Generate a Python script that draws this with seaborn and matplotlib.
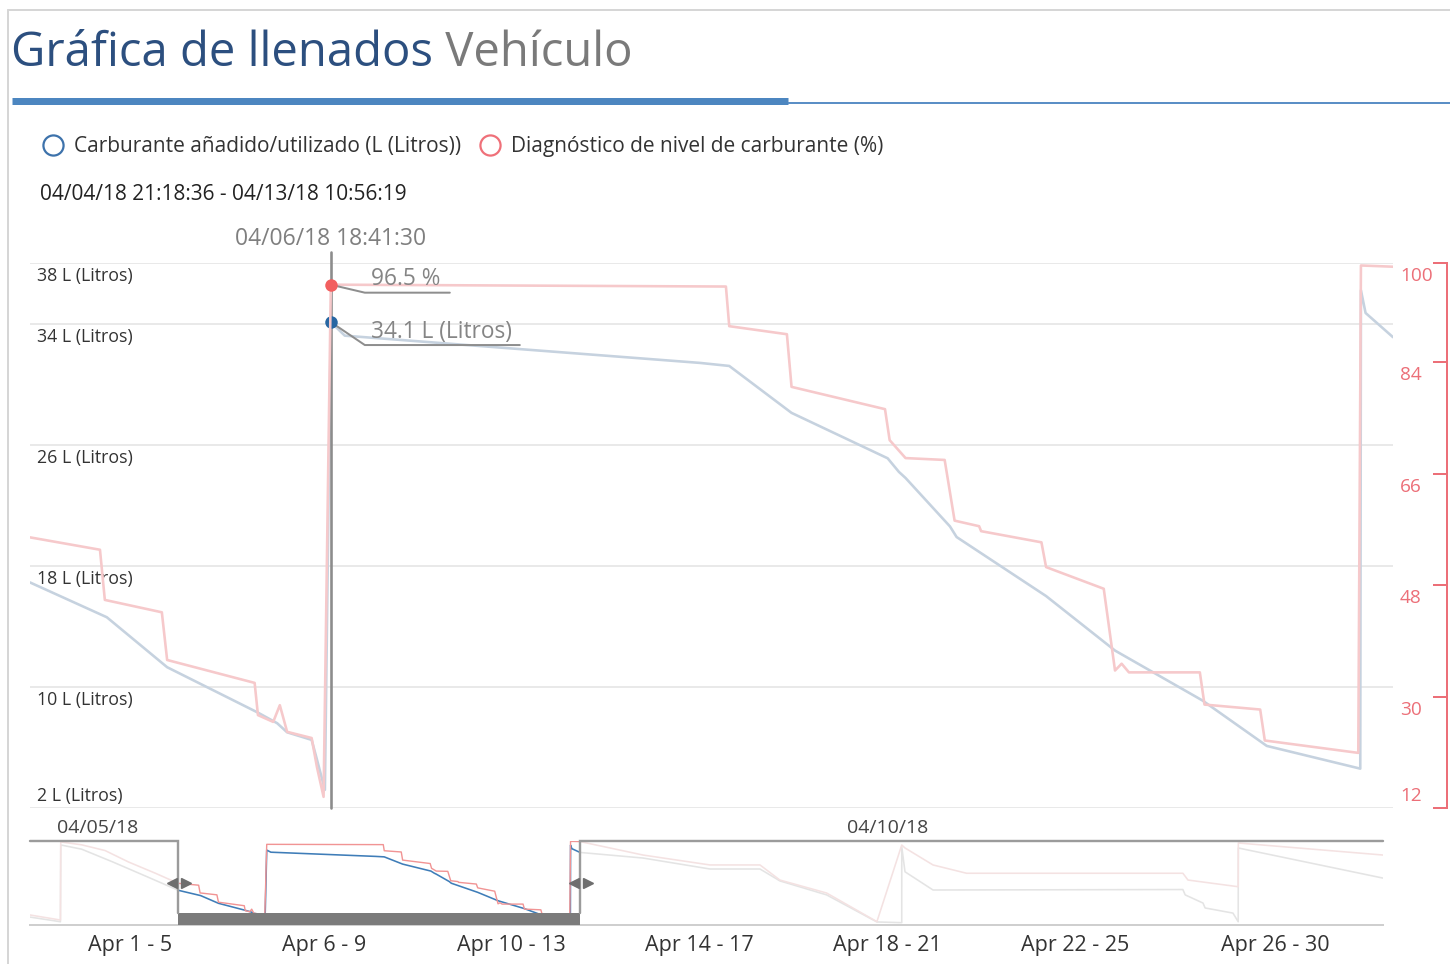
import pandas as pd
import matplotlib
matplotlib.use("Agg")
import matplotlib.pyplot as plt
import matplotlib.dates as mdates
import matplotlib.transforms as mtransforms
from matplotlib.lines import Line2D
from matplotlib.text import Annotation
import seaborn as sns

# ---------------- data ----------------
range_start = "2018-04-04 21:18:36"
range_end = "2018-04-13 10:56:19"
cursor_time = "2018-04-06 18:41:30"
cursor_litros = 34.1
cursor_pct = 96.5

# fuel added/used (litres) inside the selected range
litros_time = [
    "2018-04-04 21:18:36", "2018-04-05 08:54", "2018-04-05 18:00", "2018-04-06 07:42",
    "2018-04-06 10:36", "2018-04-06 12:06", "2018-04-06 15:48", "2018-04-06 16:36",
    "2018-04-06 17:48", "2018-04-06 18:41:30", "2018-04-06 20:48", "2018-04-09 02:24",
    "2018-04-09 06:48", "2018-04-09 16:12", "2018-04-10 06:42", "2018-04-10 08:24",
    "2018-04-10 09:24", "2018-04-10 16:06", "2018-04-10 17:06", "2018-04-11 06:36",
    "2018-04-11 17:00", "2018-04-12 06:12", "2018-04-12 15:54", "2018-04-13 06:00",
    "2018-04-13 06:06", "2018-04-13 06:48", "2018-04-13 10:56:19",
]
litros_value = [
    16.9, 14.6, 11.3, 8.3, 7.6, 7.0, 6.5, 5.2, 3.2, 34.1, 33.2, 31.4, 31.2, 28.1,
    25.1, 24.2, 23.8, 20.6, 19.9, 16.0, 12.4, 9.1, 6.1, 4.6, 36.2, 34.7, 33.1,
]

# fuel level diagnostic (%) inside the selected range
pct_time = [
    "2018-04-04 21:18:36", "2018-04-05 07:52", "2018-04-05 08:36", "2018-04-05 17:12",
    "2018-04-05 18:00", "2018-04-06 07:12", "2018-04-06 07:42", "2018-04-06 10:00",
    "2018-04-06 11:00", "2018-04-06 12:06", "2018-04-06 15:48", "2018-04-06 16:36",
    "2018-04-06 17:36", "2018-04-06 18:41:30", "2018-04-09 06:18", "2018-04-09 06:48",
    "2018-04-09 15:30", "2018-04-09 16:12", "2018-04-10 06:18", "2018-04-10 07:00",
    "2018-04-10 09:24", "2018-04-10 15:18", "2018-04-10 16:48", "2018-04-10 20:30",
    "2018-04-10 20:48", "2018-04-11 05:54", "2018-04-11 06:36", "2018-04-11 15:18",
    "2018-04-11 17:00", "2018-04-11 18:00", "2018-04-11 19:06", "2018-04-12 05:48",
    "2018-04-12 06:30", "2018-04-12 14:54", "2018-04-12 15:36", "2018-04-13 05:42",
    "2018-04-13 06:06", "2018-04-13 10:56:19",
]
pct_value = [
    55.7, 53.7, 45.6, 43.6, 35.9, 32.2, 27.0, 25.9, 28.6, 24.3, 23.3, 18.6, 13.8,
    96.5, 96.2, 89.8, 88.5, 80.0, 76.4, 71.4, 68.5, 68.2, 58.4, 57.5, 56.7, 54.9,
    50.9, 47.4, 34.2, 35.3, 33.9, 33.9, 28.7, 27.9, 22.9, 20.9, 99.6, 99.4,
]

# overview stretches before and after the selected range
pre_litros_time = ["2018-04-01 17:36", "2018-04-02 09:10", "2018-04-02 09:20", "2018-04-02 20:00",
                   "2018-04-03 12:00", "2018-04-04 06:00", "2018-04-04 21:18:36"]
pre_litros_value = [5.4, 3.4, 36.3, 34.5, 29.0, 22.5, 16.9]
pre_pct_time = ["2018-04-01 17:36", "2018-04-02 09:10", "2018-04-02 09:20", "2018-04-02 20:00",
                "2018-04-03 08:00", "2018-04-03 20:00", "2018-04-04 10:00", "2018-04-04 21:18:36"]
pre_pct_value = [22.5, 17.2, 99.0, 96.0, 90.0, 78.0, 66.0, 55.7]

post_litros_time = ["2018-04-13 10:56:19", "2018-04-14 19:10", "2018-04-16 05:25", "2018-04-17 07:00",
                    "2018-04-17 17:10", "2018-04-18 17:05", "2018-04-19 18:48", "2018-04-20 07:30",
                    "2018-04-20 07:31", "2018-04-20 09:10", "2018-04-20 23:30", "2018-04-26 07:18",
                    "2018-04-26 08:30", "2018-04-26 17:36", "2018-04-26 18:40", "2018-04-27 08:55",
                    "2018-04-27 11:36", "2018-04-27 11:40", "2018-04-30 13:40"]
post_litros_value = [33.1, 30.7, 26.0, 26.0, 20.9, 14.9, 3.3, 3.0, 35.5, 24.8, 17.0, 17.2,
                     14.9, 11.4, 9.3, 7.1, 3.4, 35.0, 22.1]
post_pct_time = ["2018-04-13 10:56:19", "2018-04-14 19:10", "2018-04-16 05:25", "2018-04-17 07:00",
                 "2018-04-17 17:10", "2018-04-18 17:05", "2018-04-19 18:48", "2018-04-20 07:30",
                 "2018-04-20 09:10", "2018-04-20 23:30", "2018-04-21 16:40", "2018-04-26 07:18",
                 "2018-04-26 09:55", "2018-04-27 11:36", "2018-04-27 11:40", "2018-04-30 13:40"]
post_pct_value = [99.4, 85.3, 74.9, 74.9, 59.1, 45.5, 15.5, 95.8, 92.7, 74.9, 66.2, 66.2,
                  59.1, 52.1, 97.9, 85.3]

nav_start = "2018-04-01 17:36"
nav_end = "2018-04-30 13:40"
band_edges = ["2018-04-06", "2018-04-10", "2018-04-14", "2018-04-18", "2018-04-22", "2018-04-26"]
band_labels = ["Apr 1 - 5", "Apr 6 - 9", "Apr 10 - 13", "Apr 14 - 17",
               "Apr 18 - 21", "Apr 22 - 25", "Apr 26 - 30"]
nav_top_labels = ["04/05/18", "04/10/18"]
nav_top_label_pos = [0.050, 0.634]

left_ticks = [2, 10, 18, 26, 34, 38]
right_ticks = [12, 30, 48, 66, 84, 100]

legend_labels = ["Carburante añadido/utilizado (L (Litros))",
                 "Diagnóstico de nivel de carburante (%)"]
title_main = "Gráfica de llenados"
title_sub = "Vehículo"

# ---------------- style ----------------
BLUE_FADED = "#c6d2df"
RED_FADED = "#f6c9cb"
BLUE_DOT = "#2766a2"
RED_DOT = "#f25f5f"
RED_AXIS = "#ec6f78"
NAV_BLUE = "#3f7db8"
NAV_RED = "#f19494"
NAV_FADED_BLUE = "#e4e4e4"
NAV_FADED_RED = "#f4e2e2"

sns.set_style("white")
plt.rcParams["font.family"] = ["Open Sans", "DejaVu Sans"]

W, H = 1450, 964
PT = 72 / 100  # points per pixel at dpi 100
fig = plt.figure(figsize=(W / 100, H / 100), dpi=100)
fig.patch.set_facecolor("white")


def fx(px):
    return px / W


def fy(py):
    return 1 - py / H


def num(times):
    return mdates.date2num(pd.to_datetime(times, format="mixed"))


t0, t1 = num([range_start, range_end])
tc = num([cursor_time])[0]

# ---------------- frame, title ----------------
fig.add_artist(Line2D([fx(8), fx(8)], [fy(10), 0], transform=fig.transFigure,
                      color="#d6d6d6", lw=2 * PT))
fig.add_artist(Line2D([fx(8), 1], [fy(10), fy(10)], transform=fig.transFigure,
                      color="#d6d6d6", lw=2 * PT))
t_title = fig.text(fx(11), fy(53), title_main, fontsize=34, color="#2c4f7f",
                   va="center", ha="left")
fig.add_artist(Annotation(" " + title_sub, xy=(1, 0), xycoords=t_title, va="bottom",
                          ha="left", fontsize=34, color="#7a7a7a"))
fig.add_artist(Line2D([fx(12), fx(788)], [fy(100.5), fy(100.5)], transform=fig.transFigure,
                      color="#4c86c0", lw=7 * PT, solid_capstyle="butt"))
fig.add_artist(Line2D([fx(788), 1], [fy(103), fy(103)], transform=fig.transFigure,
                      color="#5b8fc6", lw=2 * PT, solid_capstyle="butt"))

# legend
handles = [
    Line2D([], [], ls="none", marker="o", ms=14.5, mfc="none", mec="#3d72ab", mew=1.6),
    Line2D([], [], ls="none", marker="o", ms=14.5, mfc="none", mec="#ef7079", mew=1.6),
]
fig.legend(handles, legend_labels, loc="center left", bbox_to_anchor=(fx(42.5), fy(146.5)),
           ncol=2, frameon=False, fontsize=15, handlelength=1.0, handletextpad=0.53,
           columnspacing=0.85, borderpad=0, borderaxespad=0, labelcolor="#333333")

# selected range text
fig.text(fx(40), fy(195), "{} - {}".format(
    pd.Timestamp(range_start).strftime("%m/%d/%y %H:%M:%S"),
    pd.Timestamp(range_end).strftime("%m/%d/%y %H:%M:%S")),
    fontsize=15, color="#222222", va="center", ha="left")

# ---------------- main chart ----------------
ax = fig.add_axes([fx(30), fy(808), fx(1393) - fx(30), fy(263) - fy(808)])
ax_r = ax.twinx()
for a in (ax, ax_r):
    a.set_facecolor("none")
    for s in a.spines.values():
        s.set_visible(False)

sns.lineplot(x=num(litros_time), y=litros_value, ax=ax, color=BLUE_FADED,
             lw=2.6 * PT, sort=False, estimator=None, zorder=2)
sns.lineplot(x=num(pct_time), y=pct_value, ax=ax_r, color=RED_FADED,
             lw=2.6 * PT, sort=False, estimator=None, zorder=2)

ax.set_xlim(t0, t1)
ax.set_ylim(left_ticks[0], left_ticks[-1])
ax_r.set_ylim(right_ticks[0], right_ticks[-1])
ax.set_yticks(left_ticks)
ax.set_xticks([])
ax.grid(axis="y", color="#e4e4e4", lw=1.6 * PT)
ax.grid(axis="x", visible=False)
ax.tick_params(axis="y", length=0, labelleft=False)
ax.set_xlabel("")
ax.set_ylabel("")
ax_r.set_ylabel("")
ax_r.set_yticks(right_ticks)
ax_r.tick_params(axis="y", direction="in", length=14 * PT, width=2 * PT,
                 color=RED_AXIS, labelright=False)
ax_r.spines["right"].set_visible(True)
ax_r.spines["right"].set_position(("outward", 54 * PT))
ax_r.spines["right"].set_color(RED_AXIS)
ax_r.spines["right"].set_linewidth(2 * PT)

for v in left_ticks:
    dy = 12 * PT if v == left_ticks[0] else -13 * PT
    ax.annotate(f"{v} L (Litros)", xy=(0, v), xycoords=("axes fraction", "data"),
                xytext=(7 * PT, dy), textcoords="offset points", ha="left", va="center",
                fontsize=12.8, color="#333333")
for v in right_ticks:
    dy = 12 * PT if v == right_ticks[0] else -13 * PT
    ax_r.annotate(f"{v}", xy=(1, v), xycoords=("axes fraction", "data"),
                  xytext=(7 * PT, dy), textcoords="offset points", ha="left", va="center",
                  fontsize=13.7, color=RED_AXIS)

# hover cursor
ax.axvline(tc, ymin=0, ymax=1 + 11 / 545, clip_on=False, color="#8c8c8c",
           lw=2.6 * PT, zorder=3)
ax.annotate(pd.Timestamp(cursor_time).strftime("%m/%d/%y %H:%M:%S"), xy=(tc, 1),
            xycoords=("data", "axes fraction"), xytext=(0, 24 * PT),
            textcoords="offset points", ha="center", va="center", fontsize=16.5,
            color="#7f7f7f")


def hover_label(a, value, text, color, text_dy, line_dy, line_len):
    a.scatter([tc], [value], s=(12.5 * PT) ** 2, color=color, zorder=8, linewidths=0)
    base = fig.dpi_scale_trans + mtransforms.ScaledTranslation(tc, value, a.transData)
    a.add_line(Line2D([0, 0.34, 0.34 + line_len], [0, line_dy, line_dy],
                      transform=base, color="#8e8e8e", lw=2 * PT, zorder=7,
                      solid_joinstyle="round"))
    a.text(0.40, text_dy, text, transform=base, ha="left", va="center",
           fontsize=16.3, color="#858585", zorder=7)


hover_label(ax, cursor_litros, f"{cursor_litros} L (Litros)", BLUE_DOT, -0.095, -0.23, 1.55)
hover_label(ax_r, cursor_pct, f"{cursor_pct} %", RED_DOT, 0.055, -0.08, 0.85)

# ---------------- overview navigator ----------------
axn = fig.add_axes([fx(30), fy(925), fx(1383) - fx(30), fy(841) - fy(925)])
axn_r = axn.twinx()
for a in (axn, axn_r):
    a.set_facecolor("none")
    for s in a.spines.values():
        s.set_visible(False)

for tt, vv in ((pre_litros_time, pre_litros_value), (post_litros_time, post_litros_value)):
    sns.lineplot(x=num(tt), y=vv, ax=axn, color=NAV_FADED_BLUE, lw=1.6 * PT,
                 sort=False, estimator=None)
for tt, vv in ((pre_pct_time, pre_pct_value), (post_pct_time, post_pct_value)):
    sns.lineplot(x=num(tt), y=vv, ax=axn_r, color=NAV_FADED_RED, lw=1.6 * PT,
                 sort=False, estimator=None)
sns.lineplot(x=num(litros_time), y=litros_value, ax=axn, color=NAV_BLUE, lw=1.6 * PT,
             sort=False, estimator=None)
sns.lineplot(x=num(pct_time), y=pct_value, ax=axn_r, color=NAV_RED, lw=1.4 * PT,
             sort=False, estimator=None)

n0, n1 = num([nav_start, nav_end])
axn.set_xlim(n0, n1)
axn.set_ylim(left_ticks[0], left_ticks[-1])
axn_r.set_ylim(right_ticks[0], right_ticks[-1])
axn.set_yticks([])
axn_r.set_yticks([])
axn.set_ylabel("")
axn_r.set_ylabel("")
axn.set_xlabel("")

bar_h = 12 / 84
axn_r.axvspan(t0, t1, ymin=0, ymax=bar_h, color="#7b7b7b", lw=0, zorder=6)
xt = axn_r.get_xaxis_transform()
axn_r.plot([n0, t0, t0], [1, 1, bar_h], transform=xt, color="#9b9b9b",
           lw=2.4 * PT, clip_on=False, zorder=6, solid_joinstyle="miter")
axn_r.plot([t1, t1, n1], [bar_h, 1, 1], transform=xt, color="#9b9b9b",
           lw=2.4 * PT, clip_on=False, zorder=6, solid_joinstyle="miter")
for edge in (t0, t1):
    for dx, mk in ((-0.065, "<"), (0.075, ">")):
        tr = xt + mtransforms.ScaledTranslation(dx, 0, fig.dpi_scale_trans)
        axn_r.plot([edge], [0.5], transform=tr, marker=mk, ms=6.5, color="#6e6e6e",
                   ls="none", zorder=7, clip_on=False)

edges_num = list(num(band_edges))
all_edges = [n0] + edges_num + [n1]
centers = [(a + b) / 2 for a, b in zip(all_edges[:-1], all_edges[1:])]
axn.set_xticks(edges_num)
axn.set_xticklabels([""] * len(edges_num))
axn.set_xticks(centers, minor=True)
axn.set_xticklabels(band_labels, minor=True)
axn.tick_params(axis="x", which="major", length=14 * PT, width=1.5 * PT,
                color="#bdbdbd", direction="out")
axn.tick_params(axis="x", which="minor", length=0, pad=10 * PT, labelsize=15.5,
                labelcolor="#333333")
axn.spines["bottom"].set_visible(True)
axn.spines["bottom"].set_color("#cfcfcf")
axn.spines["bottom"].set_linewidth(2 * PT)

for lbl, xpos in zip(nav_top_labels, nav_top_label_pos):
    axn.text(xpos, 1 + 13 / 84, lbl, transform=axn.transAxes, ha="center", va="center",
             fontsize=14, color="#444444")

fig.savefig("out.png", dpi=100, facecolor="white")
